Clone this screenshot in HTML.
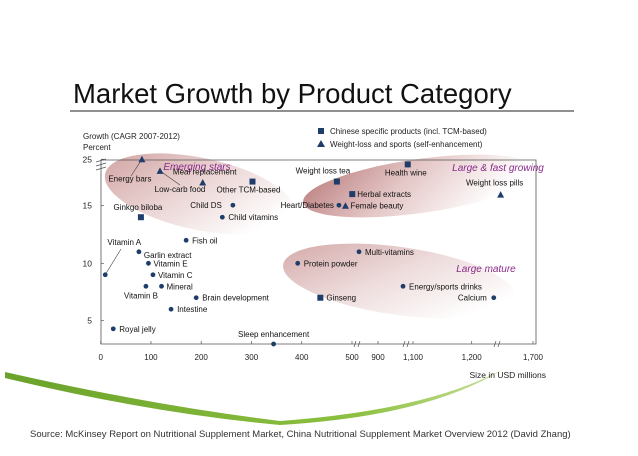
<!DOCTYPE html>
<html><head><meta charset="utf-8"><style>
html,body{margin:0;padding:0;background:#fff;}
body{width:638px;height:451px;overflow:hidden;font-family:"Liberation Sans",sans-serif;}
svg text{font-family:"Liberation Sans",sans-serif;}
</style></head><body>
<svg id="chart" width="638" height="451" viewBox="0 0 638 451" xmlns="http://www.w3.org/2000/svg">
<defs>
<linearGradient id="g1" x1="0" y1="0" x2="1" y2="0.4"><stop offset="0" stop-color="#cf9f9f"/><stop offset="0.55" stop-color="#ecd6d6"/><stop offset="1" stop-color="#ffffff"/></linearGradient>
<linearGradient id="g2" x1="0" y1="0" x2="1" y2="0.3"><stop offset="0" stop-color="#b97a7a"/><stop offset="0.5" stop-color="#e4c6c6"/><stop offset="1" stop-color="#ffffff"/></linearGradient>
<linearGradient id="g3" x1="0" y1="0" x2="1" y2="0.5"><stop offset="0" stop-color="#d1a3a3"/><stop offset="0.55" stop-color="#eedcdc"/><stop offset="1" stop-color="#ffffff"/></linearGradient>
<linearGradient id="gg" x1="0" y1="0" x2="1" y2="0"><stop offset="0" stop-color="#6aa22a"/><stop offset="0.7" stop-color="#8cc040"/><stop offset="1" stop-color="#c8e09a"/></linearGradient>
</defs>
<text x="73" y="103" font-size="27.5" fill="#111">Market Growth by Product Category</text>
<line x1="70" y1="111" x2="574" y2="111" stroke="#222" stroke-width="1"/>
<path d="M5,372 Q150,405 280,421 Q430,410 505,368 Q430,416 280,425 Q150,413 5,378 Z" fill="url(#gg)"/>
<text x="30" y="437" font-size="9.5" fill="#333">Source: McKinsey Report on Nutritional Supplement Market,  China Nutritional Supplement Market Overview 2012 (David Zhang)</text>
<g id="plot"></g>
</svg>
<script>
const names=["Energy bars","Low-carb food","Meal replacement","Other TCM-based","Ginkgo biloba","Child DS","Child vitamins","Fish oil","Weight loss tea","Health wine","Herbal extracts","Heart/Diabetes","Female beauty","Weight loss pills","Vitamin A","Garlin extract","Vitamin E","Vitamin C","Vitamin B","Mineral","Brain development","Intestine","Royal jelly","Sleep enhancement","Protein powder","Multi-vitamins","Ginseng","Energy/sports drinks","Calcium"];
const sizes=[82,118,203,302,80,263,242,170,470,1070,504,474,487,1436,9,76,95,104,90,121,190,140,25,344,392,608,437,1043,1380];
const growth=[25,22.5,20,20.2,14,15.1,14,12,20.2,23.9,17.5,15.1,15,17.4,9,11,10,9,8,8,7,6,4.3,3,10,11,7,8,7];
const kinds=["tri","tri","tri","sq","sq","dot","dot","dot","sq","sq","sq","dot","tri","tri","dot","dot","dot","dot","dot","dot","dot","dot","dot","dot","dot","dot","sq","dot","dot"];
const xTickLabels=["0","100","200","300","400","500","900","1,100","1,200","1,700"];
const xTickValues=[0,100,200,300,400,500,900,1100,1200,1700];
const yTickLabels=["5","10","15","25"];
const yTickValues=[5,10,15,25];
// label placement: [dx, dy, anchor]
const labelPos=[[-12,22,"middle"],[20,21,"middle"],[2,-8,"middle"],[-4,11,"middle"],[-3,-7,"middle"],[-11,3,"end"],[6,3,"start"],[6,3,"start"],[-14,-8,"middle"],[-2,11,"middle"],[5,3,"start"],[-5,3,"end"],[5,3,"start"],[-6,-9,"middle"],[19,-30,"middle"],[5,6,"start"],[5,3,"start"],[5,3,"start"],[-5,12,"middle"],[5,3,"start"],[6,3,"start"],[6,3,"start"],[6,3,"start"],[0,-7,"middle"],[6,3,"start"],[6,3,"start"],[6,3,"start"],[6,3,"start"],[-7,3,"end"]];
const xs=[[0,100.7],[500,352],[900,378],[1100,413],[1200,471.7],[1700,533]];
const ys=[[3,344],[5,320.7],[10,263.3],[15,205.7],[25,159.3]];
function pw(k,v){for(let i=0;i<k.length-1;i++){if(v<=k[i+1][0]||i==k.length-2){const a=k[i],b=k[i+1];return a[1]+(v-a[0])*(b[1]-a[1])/(b[0]-a[0]);}}}
const X=v=>pw(xs,v), Y=v=>pw(ys,v);
const NS="http://www.w3.org/2000/svg", g=document.getElementById("plot");
function mk(t,a,txt){const e=document.createElementNS(NS,t);for(const k in a)e.setAttribute(k,a[k]);if(txt!=null)e.textContent=txt;g.appendChild(e);return e;}
const C="#1f3d6b";
let e;
e=mk("ellipse",{cx:200,cy:194,rx:97,ry:36,transform:"rotate(12 200 194)",fill:"url(#g1)"});


e=mk("ellipse",{cx:420,cy:186,rx:118,ry:27,transform:"rotate(-8 420 186)",fill:"url(#g2)"});


e=mk("ellipse",{cx:399,cy:281,rx:117,ry:34,transform:"rotate(8 399 281)",fill:"url(#g3)"});


e=mk("path",{d:"M101,160 L536,160 L536,344 L101,344 Z",fill:"none",stroke:"#555","stroke-width":0.8});


e=mk("path",{d:"M96,162 l10,-3 M96,166 l10,-3 M96,170 l10,-3",stroke:"#555","stroke-width":0.7,fill:"none"});


[[357,344],[406,344],[497,344]].forEach(p=>{e=mk("path",{d:`M${p[0]-3},${p[1]+3} l2,-6 M${p[0]+1},${p[1]+3} l2,-6`,stroke:"#555","stroke-width":0.7,fill:"none"});

});
xTickValues.forEach((v,i)=>{e=mk("line",{x1:X(v),x2:X(v),y1:341,y2:344,stroke:"#555","stroke-width":0.7});


e=mk("text",{x:X(v),y:360,"font-size":8,"text-anchor":"middle",fill:"#222"},xTickLabels[i]);

});
yTickValues.forEach((v,i)=>{e=mk("line",{x1:101,x2:104,y1:Y(v),y2:Y(v),stroke:"#555","stroke-width":0.7});


e=mk("text",{x:92,y:Y(v)+3,"font-size":8.5,"text-anchor":"end",fill:"#222"},yTickLabels[i]);

});
e=mk("text",{x:83,y:139,"font-size":8,fill:"#222"},"Growth (CAGR 2007-2012)");


e=mk("text",{x:83,y:150,"font-size":8,fill:"#222"},"Percent");


e=mk("text",{x:546,y:378,"font-size":8.5,"text-anchor":"end",fill:"#222"},"Size in USD millions");


e=mk("rect",{x:318,y:128,width:6,height:6,fill:C});


e=mk("text",{x:330,y:134,"font-size":8,fill:"#222"},"Chinese specific products (incl. TCM-based)");


e=mk("path",{d:"M317,147 l4,-7 l4,7 Z",fill:C});


e=mk("text",{x:330,y:147,"font-size":8,fill:"#222"},"Weight-loss and sports (self-enhancement)");


[["Emerging stars",197,170,"emerging-stars-label"],["Large & fast growing",498,171,"large-fast-growing-label"],["Large mature",486,272,"large-mature-label"]].forEach(r=>{e=mk("text",{x:r[1],y:r[2],"font-size":10,"font-style":"italic","text-anchor":"middle",fill:"#8a2a8a"},r[0]);

});
e=mk("line",{x1:X(sizes[0]),y1:Y(growth[0]),x2:131,y2:176,stroke:"#444","stroke-width":0.6});


e=mk("line",{x1:X(sizes[1]),y1:Y(growth[1]),x2:180,y2:185,stroke:"#444","stroke-width":0.6});


e=mk("line",{x1:X(sizes[14]),y1:Y(growth[14]),x2:121,y2:249,stroke:"#444","stroke-width":0.6});


names.forEach((n,i)=>{const x=X(sizes[i]),y=Y(growth[i]);let m;
if(kinds[i]=="dot")m=mk("circle",{cx:x,cy:y,r:2.4,fill:C});
else if(kinds[i]=="sq")m=mk("rect",{x:x-3,y:y-3,width:6,height:6,fill:C});
else m=mk("path",{d:`M${x-3.5},${y+3} L${x},${y-3.5} L${x+3.5},${y+3} Z`,fill:C});


const p=labelPos[i];const t=mk("text",{x:x+p[0],y:y+p[1],"font-size":8,"text-anchor":p[2],fill:"#111"},n);

});
</script>
</body></html>
